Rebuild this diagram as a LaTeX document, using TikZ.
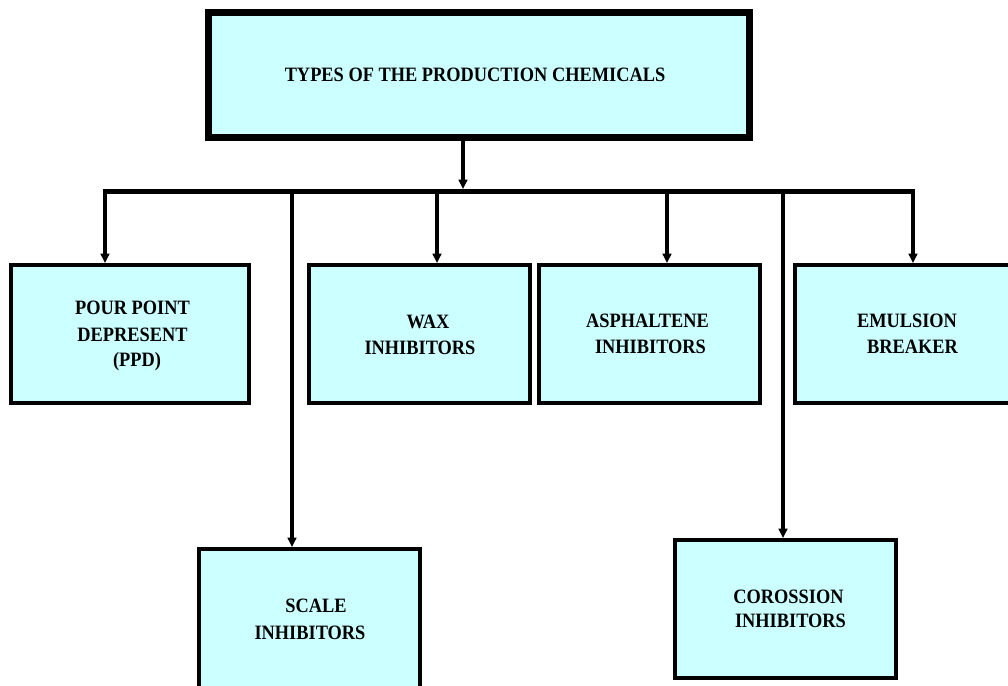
\documentclass[tikz,border=0pt]{standalone}
\usepackage{fontspec}
\setmainfont{Liberation Serif}[FakeStretch=0.9]
\usetikzlibrary{arrows.meta}
\definecolor{boxfill}{HTML}{CCFFFF}
\tikzset{
  px/.style={x=0.75pt,y=-0.75pt},
  box/.style={draw=black,fill=boxfill,line width=3pt,rectangle,inner sep=0pt,
    font=\fontsize{15pt}{20.25pt}\selectfont\bfseries,align=center},
  topbox/.style={box,line width=5.25pt},
  conn/.style={line width=3pt},
  arr/.style={conn,-{Triangle[length=7pt,width=6.5pt]}},
  bus/.style={line width=3.75pt}
}
\begin{document}
\begin{tikzpicture}[px]
\useasboundingbox (0,0) rectangle (1008,686);
\clip (0,0) rectangle (1008,686);
\node[topbox,minimum width=541*0.75pt,minimum height=125*0.75pt] (top) at (479,75) {};
\node (toptext) at (475,75) {\fontsize{15.3pt}{18pt}\selectfont\bfseries TYPES OF THE PRODUCTION CHEMICALS};
\node[box,minimum width=238*0.75pt,minimum height=138*0.75pt] (ppd) at (130,334) {};
\node[box,minimum width=221*0.75pt,minimum height=138*0.75pt] (wax) at (419.5,334) {};
\node[box,minimum width=221*0.75pt,minimum height=138*0.75pt] (asph) at (649.5,334) {};
\node[box,minimum width=225*0.75pt,minimum height=138*0.75pt] (emul) at (907.5,334) {};
\node[box,minimum width=221*0.75pt,minimum height=150*0.75pt] (scale) at (309.5,624) {};
\node[box,minimum width=221*0.75pt,minimum height=138*0.75pt] (corr) at (785.5,609) {};
% texts
\tikzset{lbl/.style={font=\fontsize{15.3pt}{20.25pt}\selectfont\bfseries,inner sep=0pt}}
\node[lbl] (t1a) at (132.5,308) {POUR POINT};
\node[lbl] (t1b) at (132.5,335) {DEPRESENT};
\node[lbl] (t1c) at (137,362) {(PPD)};
\node[lbl] (t2a) at (428,322) {WAX};
\node[lbl] (t2b) at (420,348) {INHIBITORS};
\node[lbl] (t3a) at (647.5,321) {ASPHALTENE};
\node[lbl] (t3b) at (650.5,347) {INHIBITORS};
\node[lbl] (t4a) at (907,321) {EMULSION};
\node[lbl] (t4b) at (912.5,347) {BREAKER};
\node[lbl] (t5a) at (316,606) {SCALE};
\node[lbl] (t5b) at (310,633) {INHIBITORS};
\node[lbl] (t6a) at (788.5,597) {COROSSION};
\node[lbl] (t6b) at (790.5,621) {INHIBITORS};
% connectors
\coordinate (busL) at (103,191);
\coordinate (busR) at (915,191);
\coordinate (busM) at (463,191);
\coordinate (bPPD) at (105,191);
\coordinate (bSC) at (292,191);
\coordinate (bWAX) at (437,191);
\coordinate (bAS) at (667,191);
\coordinate (bCO) at (783,191);
\coordinate (bEM) at (913,191);
\draw[bus] (busL) -- (busR);
\draw[arr] (top.south -| busM) -- ([yshift=1.5pt]busM);
\draw[arr] (bPPD) -- (ppd.north -| bPPD);
\draw[arr] (bSC) -- (scale.north -| bSC);
\draw[arr] (bWAX) -- (wax.north -| bWAX);
\draw[arr] (bAS) -- (asph.north -| bAS);
\draw[arr] (bCO) -- (corr.north -| bCO);
\draw[arr] (bEM) -- (emul.north -| bEM);
\end{tikzpicture}
\end{document}
